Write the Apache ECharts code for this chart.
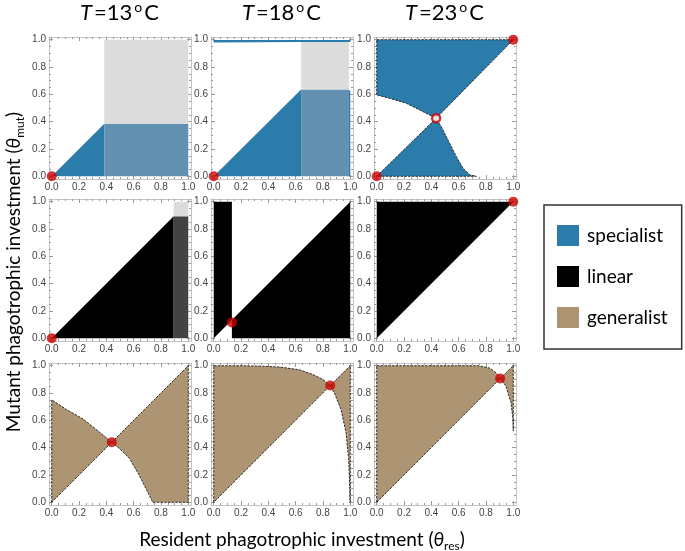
<!DOCTYPE html>
<html><head><meta charset="utf-8">
<script src="https://cdn.jsdelivr.net/npm/echarts@6/dist/echarts.min.js"></script>
<style>html,body{margin:0;padding:0;background:#fff}#c{width:685px;height:551px}</style>
</head><body><div id="c"></div>
<script>
// ---- tick values / labels ----
const tickValues = [0, 0.2, 0.4, 0.6, 0.8, 1.0];
const minorTickValues = [0.05,0.1,0.15,0.25,0.3,0.35,0.45,0.5,0.55,0.65,0.7,0.75,0.85,0.9,0.95];
const temperatures = ['13', '18', '23'];
const strategies = ['specialist', 'linear', 'generalist'];

// ---- specialist (row 1) ----
const spec13Blue  = [[0,0],[0.385,0.385],[0.385,0]];
const spec13Muted = [[0.385,0],[0.385,0.385],[1,0.385],[1,0]];
const spec13Gray  = [[0.385,0.385],[0.385,1],[1,1],[1,0.385]];
const spec13Dots  = [[0,0]];

const spec18Blue  = [[0,0],[0.64,0.635],[0.64,0]];
const spec18Muted = [[0.64,0],[0.64,0.635],[0.99,0.635],[0.99,0]];
const spec18Gray  = [[0.64,0.635],[0.64,0.985],[0.99,0.985],[0.99,0.635]];
const spec18Top   = [[0,0.98],[0.64,0.984],[1,0.984],[1,0.998],[0,0.998]];
const spec18Edge  = [[0.99,0],[0.99,0.635],[1,0.62],[1,0]];
const spec18Dots  = [[0,0]];

const spec23Upper = [[0,0.596],[0,1],[1,1],[0.435,0.425],[0.387,0.449],[0.314,0.486],[0.216,0.535],[0.093,0.571]];
const spec23Lower = [[0,0],[0.435,0.425],[0.473,0.363],[0.522,0.265],[0.584,0.142],[0.633,0.057],[0.682,0.01],[0.73,0]];
const spec23Dots  = [[0,0],[1,1]];
const spec23Open  = [[0.435,0.425]];

// ---- linear (row 2) ----
const lin13Black = [[0,0],[0.893,0.893],[0.893,0]];
const lin13Dark  = [[0.893,0],[0.893,0.893],[1,0.893],[1,0]];
const lin13Gray  = [[0.893,0.893],[0.893,1],[1,1],[1,0.893]];
const lin13Dots  = [[0,0]];

const lin18Strip = [[0,0],[0,1],[0.133,1],[0.133,0.133]];
const lin18Tri   = [[0.133,0],[0.133,0.133],[1,1],[1,0]];
const lin18Dots  = [[0.133,0.115]];

const lin23Tri   = [[0,0],[0,1],[1,1]];
const lin23Dots  = [[1,1]];

// ---- generalist (row 3) ----
const gen13Left  = [[0,0],[0,0.75],[0.107,0.68],[0.229,0.61],[0.33,0.53],[0.44,0.44]];
const gen13Right = [[0.44,0.44],[0.5,0.39],[0.57,0.32],[0.64,0.2],[0.69,0.1],[0.74,0],[1,0],[1,1]];
const gen13Dots  = [[0.44,0.44]];

const gen18Left  = [[0,0],[0,1],[0.2,1],[0.35,0.997],[0.486,0.99],[0.63,0.97],[0.727,0.935],[0.8,0.9],[0.853,0.855]];
const gen18Right = [[0.853,0.855],[1,1],[1,0],[0.998,0],[0.995,0.15],[0.988,0.32],[0.969,0.51],[0.932,0.68],[0.884,0.8]];
const gen18Dots  = [[0.853,0.855]];

const gen23Left  = [[0,0],[0,1],[0.741,1],[0.826,0.983],[0.875,0.947],[0.904,0.906]];
const gen23Right = [[0.904,0.906],[1,1],[1,0.524],[0.998,0.61],[0.983,0.73],[0.947,0.85]];
const gen23Dots  = [[0.904,0.906]];

// ---- styling ----
const C_BLUE = '#2b7bab', C_MUTED = '#6190b1', C_GRAY = '#dcdcdc', C_BLACK = '#000000',
      C_DARK = '#434343', C_TAN = '#ad9574', C_RED = '#cc0000';

const panels = [
  {polys:[[spec13Blue,C_BLUE,'specialist'],[spec13Muted,C_MUTED],[spec13Gray,C_GRAY]], dots:spec13Dots},
  {polys:[[spec18Blue,C_BLUE,'specialist'],[spec18Muted,C_MUTED],[spec18Gray,C_GRAY],[spec18Top,C_BLUE],[spec18Edge,C_BLUE]], dots:spec18Dots},
  {polys:[[spec23Upper,C_BLUE,'specialist',true],[spec23Lower,C_BLUE,'specialist',true]], dots:spec23Dots, open:spec23Open},
  {polys:[[lin13Black,C_BLACK,'linear'],[lin13Dark,C_DARK],[lin13Gray,C_GRAY]], dots:lin13Dots},
  {polys:[[lin18Strip,C_BLACK,'linear'],[lin18Tri,C_BLACK,'linear']], dots:lin18Dots},
  {polys:[[lin23Tri,C_BLACK,'linear']], dots:lin23Dots},
  {polys:[[gen13Left,C_TAN,'generalist',true],[gen13Right,C_TAN,'generalist',true]], dots:gen13Dots},
  {polys:[[gen18Left,C_TAN,'generalist',true],[gen18Right,C_TAN,'generalist',true]], dots:gen18Dots},
  {polys:[[gen23Left,C_TAN,'generalist',true],[gen23Right,C_TAN,'generalist',true]], dots:gen23Dots}
];

const colLeft = [49, 211, 374];
const rowTop = [37, 199, 363];
const SIZE = 142;

const grids = [], xAxes = [], yAxes = [], series = [];
const AX_COLOR = '#c4c4c4', TICK_COLOR = '#9a9a9a';
const fmt = v => v.toFixed(1);

for (let i = 0; i < 9; i++) {
  const r = Math.floor(i / 3), c = i % 3;
  grids.push({left: colLeft[c], top: rowTop[r], width: SIZE, height: SIZE, containLabel: false});
  const base = {gridIndex: i, type: 'value', min: -0.02, max: 1.02, splitLine: {show: false}};
  const mk = (pos, major, labels) => Object.assign({}, base, {
    position: pos,
    axisLine: {show: major, onZero: false, lineStyle: {color: AX_COLOR, width: 1}},
    axisTick: {show: true, inside: true, length: major ? 4 : 2, customValues: major ? tickValues : minorTickValues,
               lineStyle: {color: TICK_COLOR, width: 1}},
    axisLabel: labels ? {show: true, customValues: tickValues, formatter: fmt, fontSize: 10,
               fontFamily: 'Liberation Sans', color: '#444', margin: 3} : {show: false}
  });
  xAxes.push(mk('bottom', true, true), mk('bottom', false, false), mk('top', true, false), mk('top', false, false));
  yAxes.push(mk('left', true, true), mk('left', false, false), mk('right', true, false), mk('right', false, false));

  const p = panels[i];
  p.polys.forEach(([pts, color, name, stroke]) => {
    series.push({
      type: 'custom', name: name || ('bg' + i), coordinateSystem: 'cartesian2d',
      xAxisIndex: i * 4, yAxisIndex: i * 4, data: pts, encode: {x: 0, y: 1},
      silent: true, animation: false,
      renderItem: (params, api) => {
        if (params.dataIndex !== 0) return null;
        return {
          type: 'polygon',
          shape: {points: pts.map(q => api.coord(q))},
          style: {fill: color, stroke: stroke ? '#1a1a1a' : null, lineWidth: stroke ? 0.9 : 0,
                  lineDash: stroke ? [2.5, 1.2] : null}
        };
      }
    });
  });
  series.push({
    type: 'scatter', xAxisIndex: i * 4, yAxisIndex: i * 4, data: p.dots, symbolSize: 10,
    itemStyle: {color: C_RED}, clip: false, silent: true, animation: false, z: 5
  });
  if (p.open) {
    series.push({
      type: 'scatter', xAxisIndex: i * 4, yAxisIndex: i * 4, data: p.open, symbolSize: 8,
      itemStyle: {color: '#fff', borderColor: C_RED, borderWidth: 2.5}, clip: false, silent: true, animation: false, z: 5
    });
  }
}

const titleRich = {
  i: {fontSize: 22, fontStyle: 'italic', fontFamily: 'Lato', color: '#000', lineHeight: 26, padding: [0, 1, 0, 0]},
  n: {fontSize: 22, fontFamily: 'Lato', color: '#000', lineHeight: 26, padding: [0, 1, 0, 1]},
  s: {fontSize: 14, fontFamily: 'Lato', color: '#000', lineHeight: 14, verticalAlign: 'top', padding: [0, 1, 0, 1]}
};
const labRich = {
  n: {fontSize: 19, fontFamily: 'Lato', color: '#000', lineHeight: 24},
  t: {fontSize: 19, fontFamily: 'Lato', fontStyle: 'italic', color: '#000', lineHeight: 24},
  sub: {fontSize: 12, fontFamily: 'Lato', color: '#000', lineHeight: 12, verticalAlign: 'bottom'}
};

const graphics = temperatures.map((t, c) => ({
  type: 'text', x: colLeft[c] + SIZE / 2, y: 13,
  style: {text: '{i|T}{n|=' + t + '}{s|o}{n|C}', rich: titleRich, align: 'center', verticalAlign: 'middle'}
}));
graphics.push({
  type: 'text', x: 302, y: 540,
  style: {text: '{n|Resident phagotrophic investment (}{t|θ}{sub|res}{n|)}', rich: labRich, align: 'center', verticalAlign: 'middle'}
});
graphics.push({
  type: 'text', x: 14, y: 272, rotation: Math.PI / 2,
  style: {text: '{n|Mutant phagotrophic investment (}{t|θ}{sub|mut}{n|)}', rich: labRich, align: 'center', verticalAlign: 'middle'}
});

const legendColors = [C_BLUE, C_BLACK, C_TAN];

const chart = echarts.init(document.getElementById('c'), null, {renderer: 'canvas'});
chart.setOption({
  animation: false,
  backgroundColor: '#fff',
  grid: grids, xAxis: xAxes, yAxis: yAxes, series: series,
  graphic: graphics,
  legend: {
    orient: 'vertical', left: 544, top: 205, selectedMode: false,
    padding: [20, 14, 21, 13], itemWidth: 22, itemHeight: 21, itemGap: 20,
    borderColor: '#333', borderWidth: 1.5,
    textStyle: {fontSize: 19, fontFamily: 'Lato', color: '#000', padding: [0, 0, 0, 3]},
    data: strategies.map((s, k) => ({name: s, icon: 'rect', itemStyle: {color: legendColors[k], borderWidth: 0}}))
  }
});
</script></body></html>
